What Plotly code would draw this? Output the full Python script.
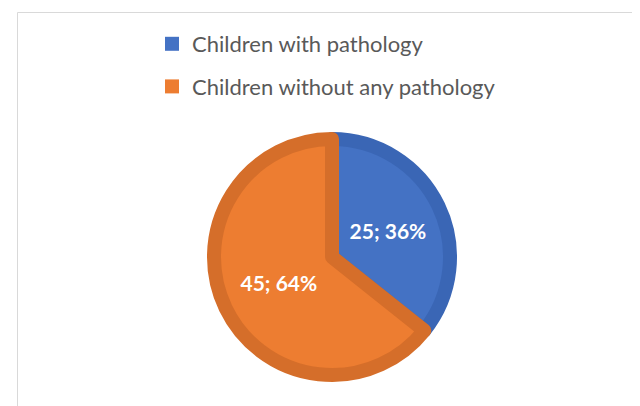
import plotly.graph_objects as go

labels = ["Children with pathology", "Children without any pathology"]
values = [25, 45]
fill_colors = ["#4472C4", "#ED7D31"]
edge_colors = ["#3A66B5", "#D56E2A"]

W, H = 640, 406
cx, cy, r = 324, 249, 118

fig = go.Figure()
fig.add_trace(go.Pie(
    labels=labels,
    values=values,
    sort=False,
    direction="clockwise",
    rotation=0,
    marker=dict(colors=fill_colors, line=dict(color=edge_colors, width=14)),
    texttemplate="%{value}; %{percent:.0%}",
    textposition="inside",
    insidetextorientation="horizontal",
    textfont=dict(family="Lato", size=21, color="white", weight="bold"),
    domain=dict(x=[(cx - r) / W, (cx + r) / W], y=[1 - (cy + r) / H, 1 - (cy - r) / H]),
    hoverinfo="label+value+percent",
    showlegend=False,
))

# legend entries (square swatches) for each slice
for lab, col in zip(labels, fill_colors):
    fig.add_trace(go.Scatter(
        x=[None], y=[None], mode="markers", name=lab, legendgroup=lab,
        marker=dict(symbol="square", size=14, color=col),
        showlegend=True,
    ))

fig.update_layout(
    width=W, height=H,
    margin=dict(l=0, r=0, t=0, b=0),
    paper_bgcolor="white",
    plot_bgcolor="white",
    xaxis=dict(visible=False),
    yaxis=dict(visible=False),
    legend=dict(
        x=144 / W, y=1 - 15 / H, xanchor="left", yanchor="top",
        font=dict(family="Lato", size=22, color="#595959"),
        orientation="v",
        tracegroupgap=11,
        bgcolor="rgba(0,0,0,0)",
    ),
    shapes=[dict(type="rect", xref="paper", yref="paper",
                 x0=9.5 / W, x1=1.2, y0=-0.2, y1=1 - 4.5 / H,
                 line=dict(color="#D9D9D9", width=1), layer="below")],
)

fig.write_html("out.html")
